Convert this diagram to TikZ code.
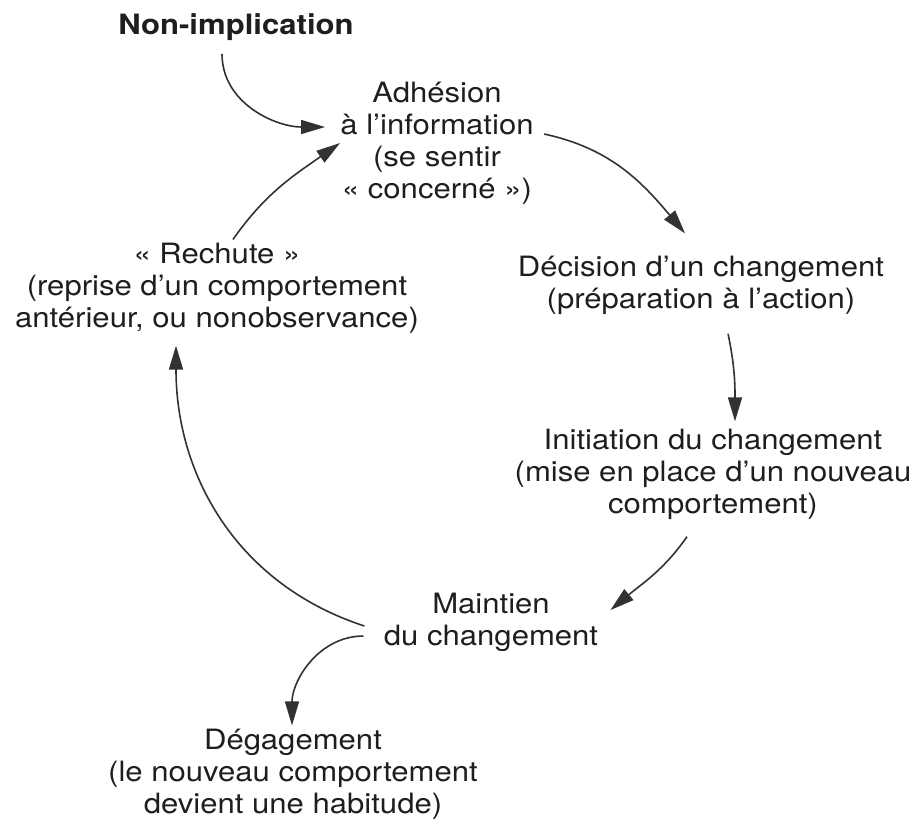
\documentclass[tikz,border=0pt]{standalone}
\usepackage{fontspec}
\setmainfont{TeX Gyre Heros}[FakeStretch=1.11]
\usetikzlibrary{arrows.meta}
\definecolor{inkgray}{RGB}{30,30,30}
\definecolor{linegray}{RGB}{50,50,50}

\begin{document}
\begin{tikzpicture}[x=0.5pt, y=-0.5pt, >={Triangle[length=12pt,width=7pt]},
    stage/.style={align=center, inner sep=0pt, text=inkgray, font=\fontsize{14}{16}\selectfont},
    flow/.style={->, draw=linegray, line width=0.8pt}]
    \useasboundingbox (0,0) rectangle (920,827);
    % the stages of the cycle
    \node[stage, font=\fontsize{14}{16}\selectfont\bfseries] (nonimpl) at (236,27) {Non-implication};
    \node[stage] (adh) at (437,143) {Adhésion\\à l’information\\(se sentir\\«~concerné~»)};
    \node[stage] (dec) at (701,285) {Décision d’un changement\\(préparation à l’action)};
    \node[stage] (init) at (713,474) {Initiation du changement\\(mise en place d’un nouveau\\comportement)};
    \node[stage] (maint) at (491,622) {Maintien\\du changement};
    \node[stage] (deg) at (293,774) {Dégagement\\(le nouveau comportement\\devient une habitude)};
    \node[stage] (rech) at (217,288) {«~Rechute~»\\(reprise d’un comportement\\antérieur, ou nonobservance)};

    \draw[flow] ([xshift=-7pt,yshift=-6.5pt]nonimpl.south) to[out=-90,in=180] ([xshift=-7.5pt,yshift=8pt]adh.west);
    \draw[flow] ([xshift=5pt,yshift=4.5pt]adh.east) to[out=-12,in=130] ([xshift=-8pt,yshift=11pt]dec.north);
    \draw[flow] ([xshift=13.5pt,yshift=-9.5pt]dec.south) to[out=-78,in=90] ([xshift=11pt,yshift=3.5pt]init.north);
    \draw[flow] ([xshift=-13pt,yshift=-8.5pt]init.south) to[out=-125,in=40] ([xshift=6pt,yshift=6pt]maint.east);
    \draw[flow] ([xshift=-9.5pt,yshift=-2pt]maint.west) to[out=162,in=-90] ([xshift=-20.5pt,yshift=-6pt]rech.south);
    \draw[flow] ([xshift=-10pt,yshift=-7pt]maint.west) to[out=180,in=90] ([xshift=-0.5pt,yshift=1.5pt]deg.north);
    \draw[flow] ([xshift=8pt,yshift=1.5pt]rech.north) to[out=55,in=-145] (adh.west);
\end{tikzpicture}
\end{document}
